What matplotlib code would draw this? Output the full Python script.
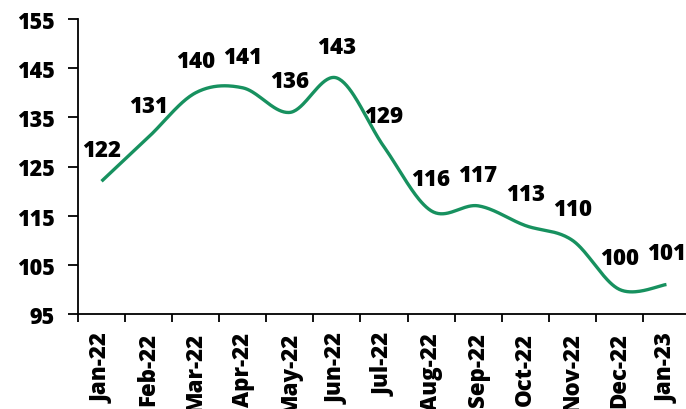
import numpy as np
import matplotlib
matplotlib.use("Agg")
import matplotlib.pyplot as plt

months = ["Jan-22", "Feb-22", "Mar-22", "Apr-22", "May-22", "Jun-22", "Jul-22",
          "Aug-22", "Sep-22", "Oct-22", "Nov-22", "Dec-22", "Jan-23"]
values = [122, 131, 140, 141, 136, 143, 129, 116, 117, 113, 110, 100, 101]
yticks = [95, 105, 115, 125, 135, 145, 155]

LINE = "#17915f"
FONT = ["Open Sans", "DejaVu Sans"]
plt.rcParams['font.family'] = FONT
W = 800


def smooth(xs, ys, n=40):
    xs = np.asarray(xs, float)
    ys = np.asarray(ys, float)
    px = np.concatenate([[xs[0]], xs, [xs[-1]]])
    py = np.concatenate([[ys[0]], ys, [ys[-1]]])
    outx, outy = [], []
    t = np.linspace(0, 1, n)
    for i in range(1, len(px) - 2):
        p0x, p0y = px[i], py[i]
        p3x, p3y = px[i + 1], py[i + 1]
        c1x = p0x + (px[i + 1] - px[i - 1]) / 6
        c1y = p0y + (py[i + 1] - py[i - 1]) / 6
        c2x = p3x - (px[i + 2] - px[i]) / 6
        c2y = p3y - (py[i + 2] - py[i]) / 6
        bx = (1 - t) ** 3 * p0x + 3 * (1 - t) ** 2 * t * c1x + 3 * (1 - t) * t ** 2 * c2x + t ** 3 * p3x
        by = (1 - t) ** 3 * p0y + 3 * (1 - t) ** 2 * t * c1y + 3 * (1 - t) * t ** 2 * c2y + t ** 3 * p3y
        outx.extend(bx)
        outy.extend(by)
    return np.array(outx), np.array(outy)


fig = plt.figure(figsize=(6.86, 4.10), dpi=100)
ax = fig.add_axes([78 / 686, 1 - 315 / 410, 612 / 686, 295 / 410])

x = np.arange(len(months))
sx, sy = smooth(x, values)
ax.plot(sx, sy, color=LINE, lw=2.4, solid_capstyle='butt')

for xi, v in zip(x, values):
    ax.annotate(str(v), (xi, v), xytext=(0, 22.5), textcoords='offset points',
                ha='center', va='center', fontsize=16, fontweight=W, color='black')

ax.set_xlim(-0.5, len(months) - 0.5)
ax.set_ylim(95, 155)
ax.set_yticks(yticks)
ax.set_yticklabels([str(t) for t in yticks], fontsize=15.5, fontweight=W)
ax.set_xticks(x)
ax.set_xticklabels(months, rotation=90, fontsize=16, fontweight=W)
ax.set_xticks(np.arange(-0.5, len(months), 1), minor=True)
ax.tick_params(axis='x', which='major', length=0, pad=13)
ax.tick_params(axis='x', which='minor', length=6, width=1.3, direction='out')
ax.tick_params(axis='y', length=7, width=1.3, direction='out', pad=10)

for s in ['top', 'right']:
    ax.spines[s].set_visible(False)
for s in ['left', 'bottom']:
    ax.spines[s].set_linewidth(1.3)

fig.savefig("out.png", dpi=100)
